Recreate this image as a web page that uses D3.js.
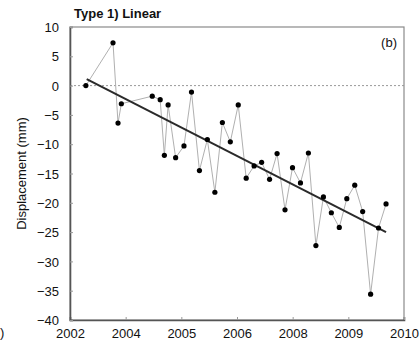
<!DOCTYPE html>
<html>
<head>
<meta charset="utf-8">
<script src="https://cdn.jsdelivr.net/npm/d3@7"></script>
<style>
  body { margin: 0; background: #fff; }
  svg { display: block; font-family: "Liberation Sans", Arial, sans-serif; }
</style>
</head>
<body>
<div id="chart"></div>
<script>
// observation epochs (decimal years) and displacement (mm)
const epochs = [2002.38, 2003.03, 2003.15, 2003.23, 2003.97, 2004.16, 2004.26, 2004.35, 2004.53,
  2004.73, 2004.91, 2005.10, 2005.29, 2005.47, 2005.65, 2005.84, 2006.03, 2006.22, 2006.41,
  2006.59, 2006.78, 2006.96, 2007.15, 2007.33, 2007.52, 2007.71, 2007.89, 2008.07, 2008.26,
  2008.45, 2008.63, 2008.82, 2009.01, 2009.20, 2009.39, 2009.57];
const displacement = [0, 7.3, -6.4, -3.1, -1.8, -2.4, -11.9, -3.3, -12.3,
  -10.3, -1.1, -14.5, -9.2, -18.2, -6.3, -9.6, -3.3, -15.8, -13.7,
  -13.1, -16.0, -11.6, -21.2, -14.0, -16.6, -11.5, -27.3, -19.0, -21.7,
  -24.2, -19.3, -17.0, -21.5, -35.6, -24.3, -20.2];

// linear fit at its two ends
const trendX = [2002.40, 2009.57];
const trendY = [1.1, -25.0];

const xTickLabels = ['2002', '2004', '2005', '2006', '2008', '2009', '2010'];
const yTicks = [10, 5, 0, -5, -10, -15, -20, -25, -30, -35, -40];

const W = 420, H = 347;
const margin = { top: 27, right: 16, bottom: 27, left: 70 };
const width = W - margin.left - margin.right;
const height = H - margin.top - margin.bottom;

const svg = d3.select('#chart').append('svg')
  .attr('width', W)
  .attr('height', H);

const g = svg.append('g')
  .attr('transform', `translate(${margin.left},${margin.top})`);

const x = d3.scaleLinear().domain([2002, 2010]).range([0, width]);
const y = d3.scaleLinear().domain([-40, 10]).range([height, 0]);

const xTickVals = xTickLabels.map((d, i) => 2002 + i * 8 / (xTickLabels.length - 1));

// frame
g.append('rect')
  .attr('width', width)
  .attr('height', height)
  .attr('fill', 'none')
  .attr('stroke', '#8a8a8a')
  .attr('stroke-width', 1.2);

// zero line
g.append('line')
  .attr('x1', 0).attr('x2', width)
  .attr('y1', y(0)).attr('y2', y(0))
  .attr('stroke', '#999')
  .attr('stroke-width', 1)
  .attr('stroke-dasharray', '2,2');

// axes, small inward ticks
const xAxis = g.append('g')
  .attr('transform', `translate(0,${height})`)
  .call(d3.axisBottom(x).tickValues(xTickVals)
    .tickSize(-3).tickPadding(9)
    .tickFormat((d, i) => xTickLabels[i]));

const yAxis = g.append('g')
  .call(d3.axisLeft(y).tickValues(yTicks)
    .tickSize(-3).tickPadding(11));

[xAxis, yAxis].forEach(a => {
  a.select('.domain').attr('stroke', '#555').attr('stroke-width', 1.6);
  a.selectAll('.tick line').attr('stroke', '#999');
  a.selectAll('.tick text')
    .attr('fill', '#111')
    .style('font-size', '13px')
    .style('font-family', '"Liberation Sans", Arial, sans-serif');
});
yAxis.selectAll('.tick text').attr('dy', '0.36em');

// data line and points
const pts = epochs.map((t, i) => ({ t, v: displacement[i] }));

g.append('path')
  .datum(pts)
  .attr('fill', 'none')
  .attr('stroke', '#b0b0b0')
  .attr('stroke-width', 1)
  .attr('d', d3.line().x(d => x(d.t)).y(d => y(d.v)));

g.append('line')
  .attr('x1', x(trendX[0])).attr('y1', y(trendY[0]))
  .attr('x2', x(trendX[1])).attr('y2', y(trendY[1]))
  .attr('stroke', '#2a2a2a')
  .attr('stroke-width', 2);

g.selectAll('.pt')
  .data(pts)
  .enter().append('circle')
  .attr('class', 'pt')
  .attr('cx', d => x(d.t))
  .attr('cy', d => y(d.v))
  .attr('r', 2.6)
  .attr('fill', '#000');

// labels
svg.append('text')
  .attr('x', 74).attr('y', 18)
  .style('font-size', '13px')
  .style('font-weight', 'bold')
  .attr('fill', '#111')
  .text('Type 1) Linear');

svg.append('text')
  .attr('x', 397).attr('y', 47)
  .attr('text-anchor', 'end')
  .style('font-size', '13px')
  .attr('fill', '#111')
  .text('(b)');

svg.append('text')
  .attr('transform', `translate(26,${margin.top + height / 2}) rotate(-90)`)
  .attr('text-anchor', 'middle')
  .style('font-size', '13px')
  .attr('fill', '#111')
  .text('Displacement (mm)');

// the visible edge of the neighbouring panel's label
svg.append('text')
  .attr('x', 0).attr('y', 337)
  .style('font-size', '13px')
  .attr('fill', '#111')
  .text(')');
</script>
</body>
</html>
